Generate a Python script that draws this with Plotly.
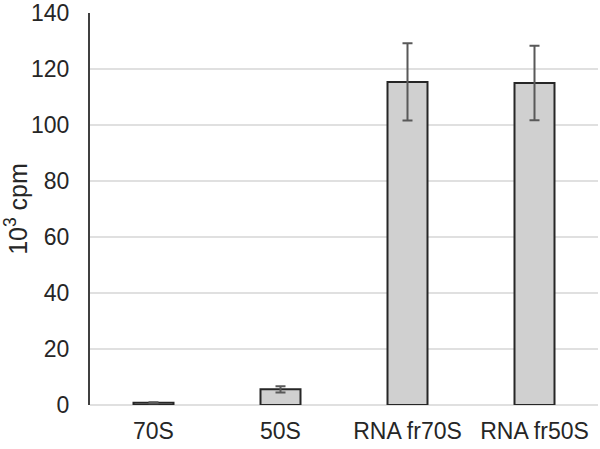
import plotly.graph_objects as go

categories = ['70S', '50S', 'RNA fr70S', 'RNA fr50S']
values = [0.8, 5.6, 115.4, 115.0]
errors = [0.2, 1.1, 13.8, 13.3]

fig = go.Figure()
fig.add_trace(go.Bar(
    x=categories, y=values,
    marker=dict(color='#d0d0d0', line=dict(color='#262626', width=2)),
    error_y=dict(type='data', array=errors, visible=True,
                 color='#595959', thickness=2, width=5),
    width=0.315,
))

fig.update_layout(
    width=600, height=449,
    margin=dict(l=90, r=2, t=13, b=44),
    plot_bgcolor='white', paper_bgcolor='white',
    showlegend=False,
    font=dict(family='Liberation Sans, Arial', size=23, color='#262626'),
)
fig.update_yaxes(
    range=[0, 140], tickvals=[0, 20, 40, 60, 80, 100, 120, 140],
    showgrid=True, gridcolor='#e0e0e0', gridwidth=1.5,
    showline=True, linecolor='#404040', linewidth=2,
    zeroline=True, zerolinecolor='#e0e0e0', zerolinewidth=1.5,
    ticks='', ticklabelstandoff=14, automargin=False,
    title=dict(text='10<sup>3</sup> cpm', font=dict(size=25), standoff=12),
)
fig.update_xaxes(
    showline=False, showgrid=False, ticks='', automargin=False,
    tickfont=dict(size=23), ticklabelstandoff=10,
)

# page has a default 8px body margin, drop it
fig.write_html("out.html", config={'displayModeBar': False},
               post_script="document.body.style.margin='0';")
